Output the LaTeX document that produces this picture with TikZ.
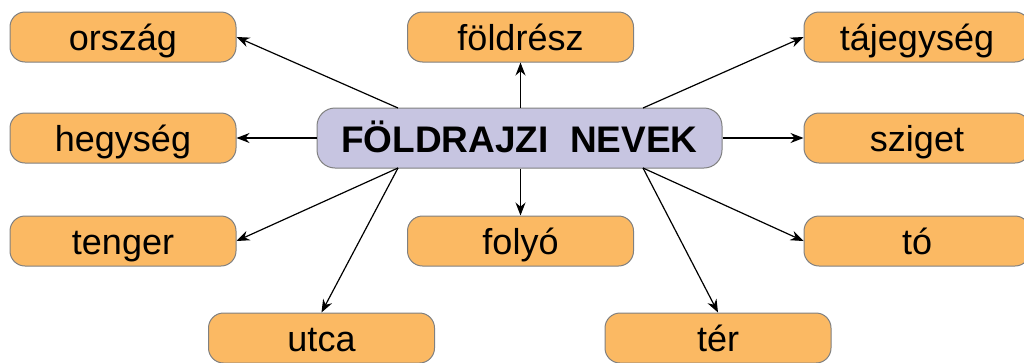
\documentclass[tikz,border=0pt]{standalone}
\usepackage{fontspec}
\setmainfont{Liberation Sans}
\usetikzlibrary{arrows.meta}
\definecolor{boxorange}{RGB}{251,185,99}
\definecolor{boxlav}{RGB}{199,197,225}
\definecolor{boxline}{RGB}{128,128,128}
\begin{document}
\begin{tikzpicture}[x=1pt,y=-1pt,
  leaf/.style={draw=boxline,line width=1pt,fill=boxorange,rounded corners=15pt,
    minimum width=226pt,minimum height=50pt,inner sep=0pt,
    text height=30pt,text depth=4pt,
    font=\fontsize{36pt}{40pt}\selectfont},
  hub/.style={draw=boxline,line width=1pt,fill=boxlav,rounded corners=18pt,
    minimum width=405pt,minimum height=60pt,inner sep=0pt,
    text height=33pt,text depth=3.6pt,
    font=\fontsize{37pt}{42pt}\selectfont\bfseries},
  arr/.style={line width=1.2pt,-{Stealth[length=13pt,width=10pt]}}]
\useasboundingbox (0,0) rectangle (1024,362);
\node[hub] (c) at (519.5,138) {FÖLDRAJZI\hspace{0.3em} NEVEK};
\node[leaf] (orszag) at (123,37) {ország};
\node[leaf] (foldresz) at (520.5,37) {földrész};
\node[leaf] (tajegyseg) at (917,37) {tájegység};
\node[leaf] (hegyseg) at (123,138) {hegység};
\node[leaf] (sziget) at (917,138) {sziget};
\node[leaf] (tenger) at (123,241) {tenger};
\node[leaf] (folyo) at (520.5,241) {folyó};
\node[leaf] (to) at (917,241) {tó};
\node[leaf] (utca) at (321.5,338) {utca};
\node[leaf] (ter) at (718,338) {tér};
\coordinate (tl) at (398,108);
\coordinate (tr) at (643,108);
\coordinate (bl) at (398,168);
\coordinate (br) at (643,168);
\draw[arr] (tl) -- (orszag.east);
\draw[arr] (c.north -| foldresz.south) -- (foldresz.south);
\draw[arr] (tr) -- (tajegyseg.west);
\draw[arr] (c.west) -- (hegyseg.east);
\draw[arr] (c.east) -- (sziget.west);
\draw[arr] (bl) -- (tenger.east);
\draw[arr] (bl) -- (utca.north);
\draw[arr] (c.south -| folyo.north) -- (folyo.north);
\draw[arr] (br) -- (to.west);
\draw[arr] (br) -- (ter.north);
\end{tikzpicture}
\end{document}
